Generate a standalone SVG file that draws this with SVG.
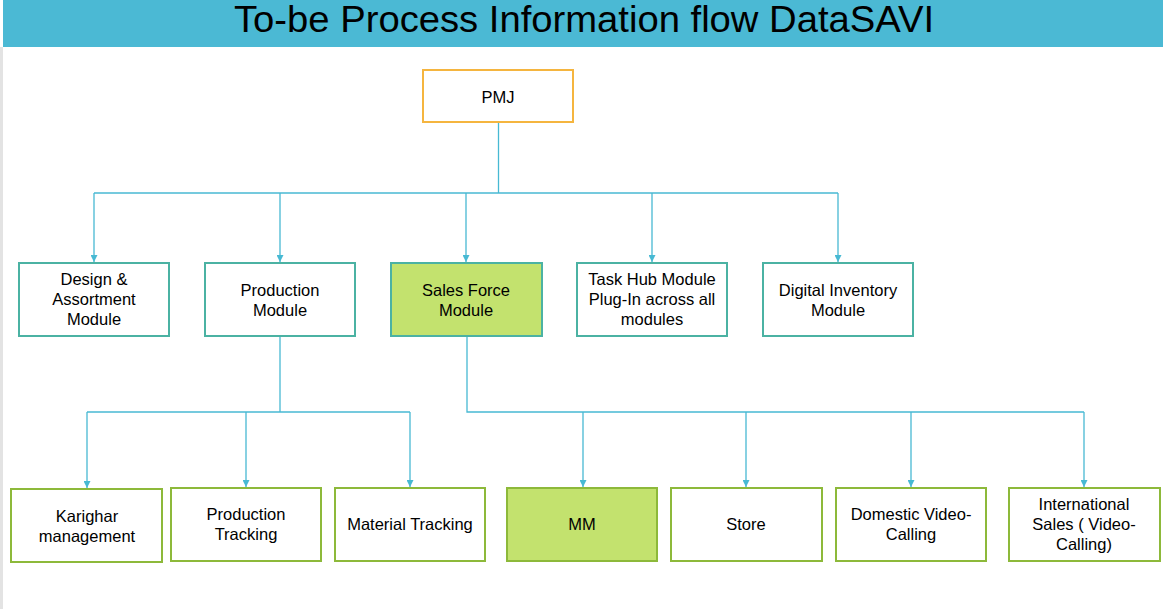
<svg xmlns="http://www.w3.org/2000/svg" width="1163" height="609" viewBox="0 0 1163 609">
<defs>
<marker id="ah" viewBox="0 0 10 10" refX="10" refY="5" markerWidth="7" markerHeight="7" markerUnits="userSpaceOnUse" orient="auto">
<path d="M0,0 L10,5 L0,10 z" fill="#47B9D3"/>
</marker>
<style>
.t{font-family:"Liberation Sans",Arial,sans-serif;font-size:16.5px;fill:#000;text-anchor:middle}
.top{fill:#fff;stroke:#4BB2A3;stroke-width:2}
.bot{fill:#fff;stroke:#8DB93A;stroke-width:2}
.hl{fill:#C3E26E}
.c{fill:none;stroke:#47B9D3;stroke-width:1.3}
</style>
</defs>
<rect x="0" y="0" width="1163" height="609" fill="#fff"/>
<rect x="0" y="47" width="3" height="562" fill="#E3E3E3"/>
<rect x="3" y="0" width="1160" height="47" fill="#4BB9D4"/>
<text x="584" y="32" font-family="Liberation Sans,Arial,sans-serif" font-size="36" text-anchor="middle" textLength="700" lengthAdjust="spacingAndGlyphs" fill="#000">To-be Process Information flow DataSAVI</text>

<g id="connectors">
<path class="c" d="M498.5,122 V193"/>
<path class="c" d="M94,193 H838"/>
<path class="c" d="M94,193 V262" marker-end="url(#ah)"/>
<path class="c" d="M280,193 V262" marker-end="url(#ah)"/>
<path class="c" d="M466,193 V262" marker-end="url(#ah)"/>
<path class="c" d="M652,193 V262" marker-end="url(#ah)"/>
<path class="c" d="M838,193 V262" marker-end="url(#ah)"/>
<path class="c" d="M280,336 V412"/>
<path class="c" d="M87,412 H410"/>
<path class="c" d="M87,412 V488" marker-end="url(#ah)"/>
<path class="c" d="M246,412 V487" marker-end="url(#ah)"/>
<path class="c" d="M410,412 V487" marker-end="url(#ah)"/>
<path class="c" d="M467,336 V412 H1084"/>
<path class="c" d="M583,412 V487" marker-end="url(#ah)"/>
<path class="c" d="M746,412 V487" marker-end="url(#ah)"/>
<path class="c" d="M911,412 V487" marker-end="url(#ah)"/>
<path class="c" d="M1084,412 V487" marker-end="url(#ah)"/>
</g>

<g id="pmj">
<rect x="423" y="70" width="150" height="52" fill="#fff" stroke="#F5B53F" stroke-width="2"/>
<text class="t" x="498" y="103">PMJ</text>
</g>

<g id="design">
<rect class="top" x="19" y="263" width="150" height="73"/>
<text class="t" x="94" y="285">Design &amp;</text>
<text class="t" x="94" y="305">Assortment</text>
<text class="t" x="94" y="325">Module</text>
</g>
<g id="production">
<rect class="top" x="205" y="263" width="150" height="73"/>
<text class="t" x="280" y="296">Production</text>
<text class="t" x="280" y="316">Module</text>
</g>
<g id="salesforce">
<rect class="top hl" x="391" y="263" width="151" height="73"/>
<text class="t" x="466" y="296">Sales Force</text>
<text class="t" x="466" y="316">Module</text>
</g>
<g id="taskhub">
<rect class="top" x="577" y="263" width="150" height="73"/>
<text class="t" x="652" y="285">Task Hub Module</text>
<text class="t" x="652" y="305">Plug-In across all</text>
<text class="t" x="652" y="325">modules</text>
</g>
<g id="digital">
<rect class="top" x="763" y="263" width="150" height="73"/>
<text class="t" x="838" y="296">Digital Inventory</text>
<text class="t" x="838" y="316">Module</text>
</g>

<g id="karighar">
<rect class="bot" x="11" y="489" width="151" height="73"/>
<text class="t" x="87" y="522">Karighar</text>
<text class="t" x="87" y="542">management</text>
</g>
<g id="prodtracking">
<rect class="bot" x="171" y="488" width="150" height="73"/>
<text class="t" x="246" y="520">Production</text>
<text class="t" x="246" y="540">Tracking</text>
</g>
<g id="material">
<rect class="bot" x="335" y="488" width="150" height="73"/>
<text class="t" x="410" y="530">Material Tracking</text>
</g>
<g id="mm">
<rect class="bot hl" x="507" y="488" width="150" height="73"/>
<text class="t" x="582" y="530">MM</text>
</g>
<g id="store">
<rect class="bot" x="671" y="488" width="151" height="73"/>
<text class="t" x="746" y="530">Store</text>
</g>
<g id="domestic">
<rect class="bot" x="836" y="488" width="150" height="73"/>
<text class="t" x="911" y="520">Domestic Video-</text>
<text class="t" x="911" y="540">Calling</text>
</g>
<g id="international">
<rect class="bot" x="1009" y="488" width="151" height="73"/>
<text class="t" x="1084" y="510">International</text>
<text class="t" x="1084" y="530">Sales ( Video-</text>
<text class="t" x="1084" y="550">Calling)</text>
</g>
</svg>
